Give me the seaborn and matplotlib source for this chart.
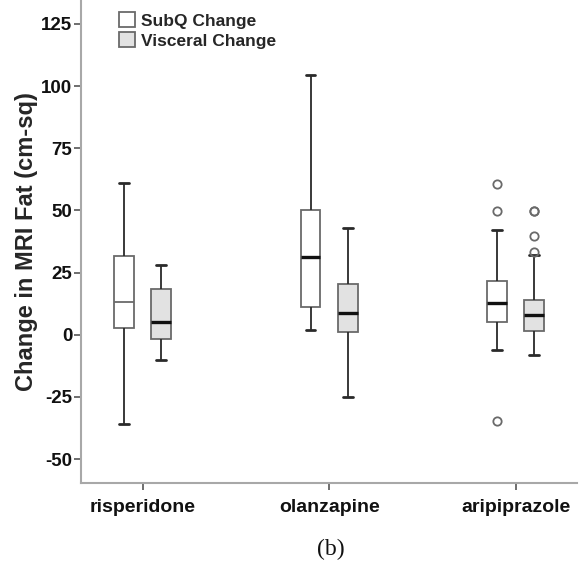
import numpy as np
import pandas as pd
import matplotlib
matplotlib.use("Agg")
import matplotlib.pyplot as plt
from matplotlib.patches import Patch
import seaborn as sns

# ---- data (five-number summaries + outliers) ----
drugs = ["risperidone", "olanzapine", "aripiprazole"]
measures = ["SubQ Change", "Visceral Change"]

subq_low_whisker = [-36.0, 2.1, -6.0]
subq_q1 = [2.7, 11.2, 5.3]
subq_median = [13.0, 31.4, 12.9]
subq_q3 = [31.6, 50.3, 21.5]
subq_high_whisker = [61.0, 104.3, 42.2]
subq_outliers_low = [[], [], [-34.7]]
subq_outliers_high = [[], [], [49.8, 60.8]]

visc_low_whisker = [-10.3, -25.0, -8.2]
visc_q1 = [-1.6, 1.0, 1.6]
visc_median = [5.1, 8.8, 7.75]
visc_q3 = [18.5, 20.3, 14.05]
visc_high_whisker = [28.0, 42.8, 32.1]
visc_outliers_low = [[], [], []]
visc_outliers_high = [[], [], [33.3, 39.8, 49.8, 49.8]]

y_ticks = [-50, -25, 0, 25, 50, 75, 100, 125]


def summary_sample(lo, q1, med, q3, hi, out_lo, out_hi):
    """Sample whose box statistics equal the given summary (values repeated)."""
    low_tail = sorted(list(out_lo) + [lo])
    high_tail = sorted([hi] + list(out_hi))
    k = max(len(low_tail), len(high_tail))
    vals = low_tail + [q1] * (k - len(low_tail))
    vals += [q1] * k + [med] * k + [q3]
    vals += [q3] * (k - len(high_tail)) + high_tail
    return vals


rows = []
for i, d in enumerate(drugs):
    for v in summary_sample(subq_low_whisker[i], subq_q1[i], subq_median[i], subq_q3[i],
                            subq_high_whisker[i], subq_outliers_low[i], subq_outliers_high[i]):
        rows.append((d, measures[0], v))
    for v in summary_sample(visc_low_whisker[i], visc_q1[i], visc_median[i], visc_q3[i],
                            visc_high_whisker[i], visc_outliers_low[i], visc_outliers_high[i]):
        rows.append((d, measures[1], v))
df = pd.DataFrame(rows, columns=["drug", "measure", "change"])

# ---- style ----
sns.set_style("ticks")
plt.rcParams["font.family"] = ["Liberation Sans", "DejaVu Sans"]
plt.rcParams["font.weight"] = "bold"
plt.rcParams["axes.unicode_minus"] = False

W, H = 584, 573
fig = plt.figure(figsize=(W / 100, H / 100), dpi=100)
ax = fig.add_axes([80.7 / W, 1 - 482.7 / H, (576.7 - 80.7) / W, 482.7 / H])

box_edge = "#6a6a6a"
line_dark = "#2a2a2a"
fills = {"SubQ Change": "#ffffff", "Visceral Change": "#e2e2e2"}

sns.boxplot(
    data=df, x="drug", y="change", hue="measure",
    order=drugs, hue_order=measures, palette=fills, saturation=1,
    width=0.4, gap=0.47, linecolor=line_dark, linewidth=1.2,
    boxprops=dict(edgecolor=box_edge, linewidth=1.3),
    whiskerprops=dict(color=line_dark, linewidth=1.3),
    capprops=dict(color=line_dark, linewidth=2.0),
    medianprops=dict(color="#111111", linewidth=2.4),
    flierprops=dict(marker="o", markersize=6, markerfacecolor="none",
                    markeredgecolor=box_edge, markeredgewidth=1.3),
    legend=False, ax=ax,
)

# risperidone SubQ median is drawn thin in the reference
for ln in ax.lines:
    xd, yd = np.asarray(ln.get_xdata(), float), np.asarray(ln.get_ydata(), float)
    if len(yd) == 2 and np.allclose(yd, subq_median[0]) and abs(xd.mean() + 0.1) < 0.05:
        ln.set_linewidth(1.3)
        ln.set_color(box_edge)

ax.set_xlim(-0.332, 2.327)
ax.set_ylim(-59.5, 134.6)
ax.set_yticks(y_ticks)
ax.set_xlabel("")
ax.set_ylabel("Change in MRI Fat (cm-sq)", fontsize=17, fontweight="bold", labelpad=2)

for s in ["top", "right"]:
    ax.spines[s].set_visible(False)
for s in ["left", "bottom"]:
    ax.spines[s].set_color("#a8a8a8")
    ax.spines[s].set_linewidth(1.5)
ax.tick_params(axis="y", colors="#555555", length=5, width=1.2, pad=1, labelsize=13.5,
               labelcolor="#111111")
ax.tick_params(axis="x", colors="#555555", length=5, width=1.2, pad=7, labelsize=14,
               labelcolor="#111111")
for t in ax.get_xticklabels() + ax.get_yticklabels():
    t.set_fontweight("bold")

handles = [Patch(facecolor=fills[m], edgecolor=box_edge, linewidth=1.3, label=m) for m in measures]
leg = fig.legend(
    handles=handles, loc="upper left", bbox_to_anchor=(119 / W, 1 - 12.5 / H),
    bbox_transform=fig.transFigure, frameon=False,
    handlelength=0.95, handleheight=0.95, handletextpad=0.3, labelspacing=0.2,
    borderpad=0, borderaxespad=0,
    prop={"weight": "bold", "size": 12.5},
)

fig.text(331 / W, 1 - 549 / H, "(b)", ha="center", va="center", fontsize=17,
         family=["Liberation Serif", "DejaVu Serif"], fontweight="normal", color="#111111")

fig.savefig("out.png", dpi=100)
